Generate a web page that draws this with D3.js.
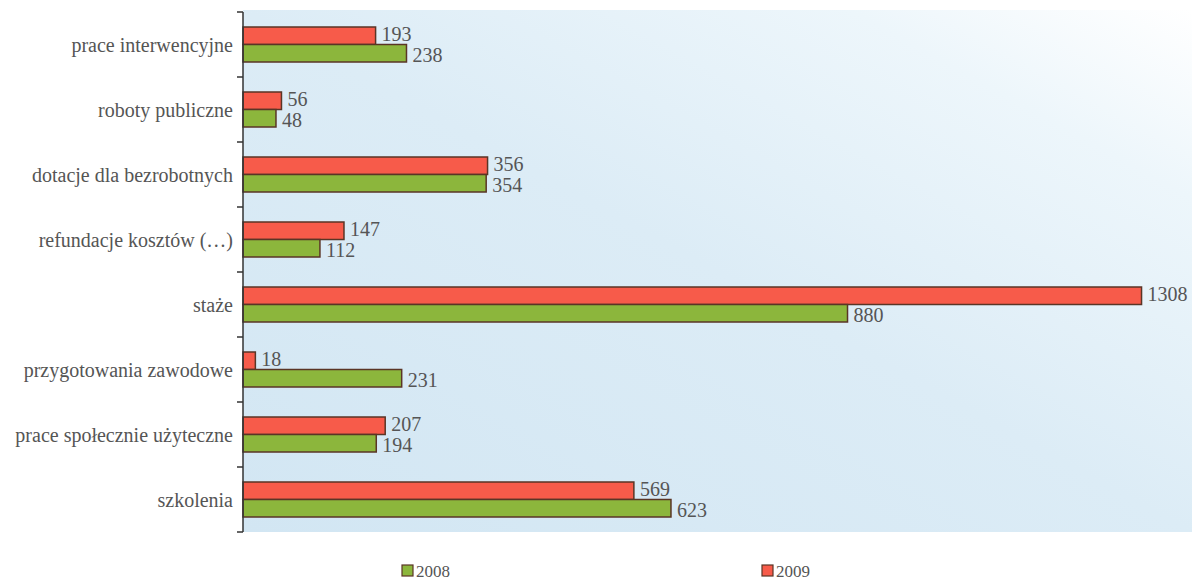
<!DOCTYPE html>
<html>
<head>
<meta charset="utf-8">
<script src="https://cdn.jsdelivr.net/npm/d3@7"></script>
<style>
  body { margin: 0; background: #fff; }
</style>
</head>
<body>
<script>
// data
var categories = ["prace interwencyjne", "roboty publiczne", "dotacje dla bezrobotnych",
    "refundacje kosztów (…)", "staże", "przygotowania zawodowe",
    "prace społecznie użyteczne", "szkolenia"];
var values2009 = [193, 56, 356, 147, 1308, 18, 207, 569];
var values2008 = [238, 48, 354, 112, 880, 231, 194, 623];
var seriesNames = ["2008", "2009"];

var w = 1192, h = 580;
var plotLeft = 243, plotTop = 12, plotBottom = 532, plotRight = 1191;
var redFill = "#f75b4a", greenFill = "#8cb63c";
var barStroke = "#5a3526";
var serif = "'Liberation Serif'";
var textColor = "#555";

var svg = d3.select("body").append("svg")
    .attr("width", w)
    .attr("height", h);

var defs = svg.append("defs");
var grad = defs.append("linearGradient")
    .attr("id", "bg")
    .attr("x1", "100%").attr("y1", "0%")
    .attr("x2", "0%").attr("y2", "100%");
grad.append("stop").attr("offset", "0%").attr("stop-color", "#ffffff");
grad.append("stop").attr("offset", "18%").attr("stop-color", "#edf6fb");
grad.append("stop").attr("offset", "50%").attr("stop-color", "#dcecf6");
grad.append("stop").attr("offset", "100%").attr("stop-color", "#d2e6f3");

svg.append("rect")
    .attr("x", plotLeft)
    .attr("y", plotTop - 2)
    .attr("width", w - plotLeft)
    .attr("height", plotBottom - plotTop + 2)
    .attr("fill", "url(#bg)");

var x = d3.scaleLinear().domain([0, 1380]).range([plotLeft, plotRight]);
var y = d3.scaleBand().domain(categories).range([plotTop, plotBottom]);

var barH = 17.5;

// 2009 (red, upper)
svg.selectAll("rect.r")
    .data(values2009)
    .enter()
    .append("rect")
    .attr("class", "r")
    .attr("x", x(0))
    .attr("y", function(d, i) {
        return y(categories[i]) + y.bandwidth() / 2 - barH;
    })
    .attr("width", function(d) { return x(d) - x(0); })
    .attr("height", barH)
    .attr("fill", redFill)
    .attr("stroke", barStroke)
    .attr("stroke-width", 1.5);

// 2008 (green, lower)
svg.selectAll("rect.g")
    .data(values2008)
    .enter()
    .append("rect")
    .attr("class", "g")
    .attr("x", x(0))
    .attr("y", function(d, i) {
        return y(categories[i]) + y.bandwidth() / 2;
    })
    .attr("width", function(d) { return x(d) - x(0); })
    .attr("height", barH)
    .attr("fill", greenFill)
    .attr("stroke", barStroke)
    .attr("stroke-width", 1.5);

// value labels
svg.selectAll("text.vr")
    .data(values2009)
    .enter()
    .append("text")
    .attr("class", "vr")
    .text(function(d) { return d; })
    .attr("x", function(d) { return x(d) + 6; })
    .attr("y", function(d, i) {
        return y(categories[i]) + y.bandwidth() / 2 - barH / 2 - 2;
    })
    .attr("dy", "0.35em")
    .style("font-family", serif)
    .style("font-size", "20px")
    .attr("fill", textColor);

svg.selectAll("text.vg")
    .data(values2008)
    .enter()
    .append("text")
    .attr("class", "vg")
    .text(function(d) { return d; })
    .attr("x", function(d) { return x(d) + 6; })
    .attr("y", function(d, i) {
        return y(categories[i]) + y.bandwidth() / 2 + barH / 2 + 2;
    })
    .attr("dy", "0.35em")
    .style("font-family", serif)
    .style("font-size", "20px")
    .attr("fill", textColor);

// y axis
var axis = svg.append("g")
    .attr("transform", "translate(" + plotLeft + ",0)");
axis.append("line")
    .attr("x1", 0).attr("x2", 0)
    .attr("y1", plotTop).attr("y2", plotBottom)
    .attr("stroke", "#333")
    .attr("stroke-width", 1.5);
axis.selectAll("line.tick")
    .data(d3.range(categories.length + 1))
    .enter()
    .append("line")
    .attr("class", "tick")
    .attr("x1", -6).attr("x2", 0)
    .attr("y1", function(i) { return plotTop + i * y.step(); })
    .attr("y2", function(i) { return plotTop + i * y.step(); })
    .attr("stroke", "#333")
    .attr("stroke-width", 1.5);

svg.selectAll("text.cat")
    .data(categories)
    .enter()
    .append("text")
    .attr("class", "cat")
    .text(function(d) { return d; })
    .attr("x", plotLeft - 10)
    .attr("y", function(d) { return y(d) + y.bandwidth() / 2; })
    .attr("dy", "0.35em")
    .attr("text-anchor", "end")
    .style("font-family", serif)
    .style("font-size", "20px")
    .attr("fill", textColor);

// legend
var legendX = [402, 762];
var legendFill = [greenFill, redFill];
var legend = svg.selectAll("g.legend")
    .data(seriesNames)
    .enter()
    .append("g")
    .attr("class", "legend")
    .attr("transform", function(d, i) { return "translate(" + legendX[i] + ",565)"; });
legend.append("rect")
    .attr("width", 11).attr("height", 11)
    .attr("fill", function(d, i) { return legendFill[i]; })
    .attr("stroke", barStroke)
    .attr("stroke-width", 1.2);
legend.append("text")
    .text(function(d) { return d; })
    .attr("x", 14)
    .attr("y", 12)
    .style("font-family", serif)
    .style("font-size", "17px")
    .attr("fill", textColor);
</script>
</body>
</html>
